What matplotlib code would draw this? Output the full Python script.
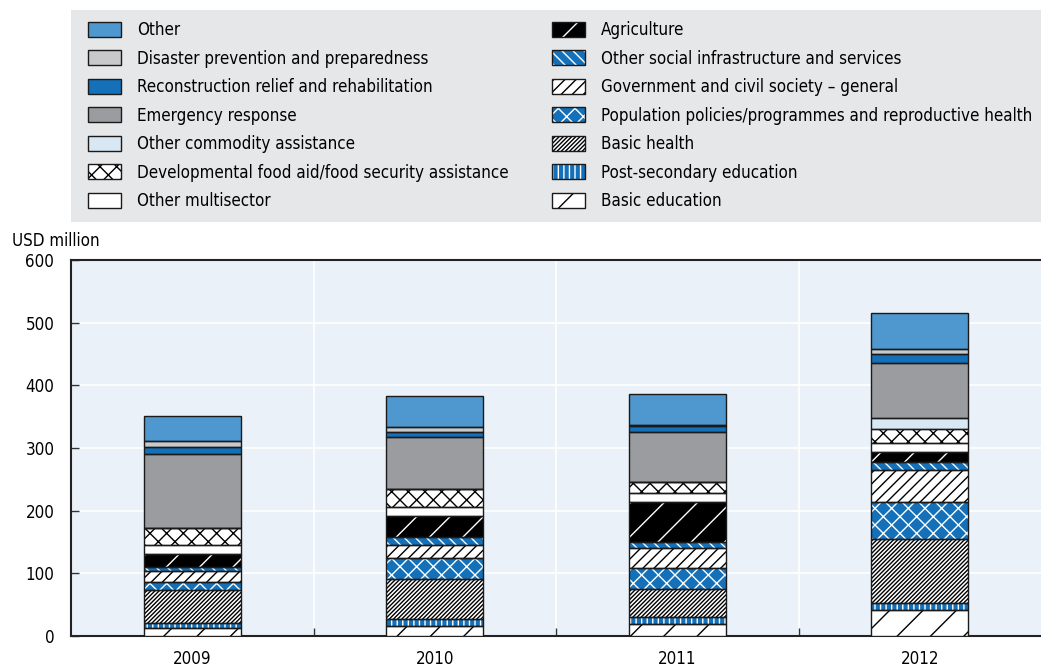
import numpy as np
import matplotlib
matplotlib.use("Agg")
import matplotlib.pyplot as plt
from matplotlib.patches import Patch, Rectangle
from matplotlib.legend_handler import HandlerTuple

plt.rcParams['font.family'] = ['DejaVu Sans']
plt.rcParams['font.stretch'] = 'condensed'
plt.rcParams['font.size'] = 12.2
plt.rcParams['hatch.linewidth'] = 1.0

years = ['2009', '2010', '2011', '2012']

# stacked bottom -> top, USD million
basic_education = [13, 16, 19, 41.5]
post_secondary = [8, 10.5, 12, 11.5]
basic_health = [52, 64.5, 44, 101.5]
population = [13, 33, 33.5, 59]
government = [17.5, 20.5, 32, 52]
other_social = [7, 13, 9, 12]
agriculture = [21, 34, 65, 16.5]
other_multisector = [13, 15, 14, 14.5]
food_aid = [28, 28.5, 17, 22]
other_commodity = [0, 0, 0, 17]
emergency = [117.5, 82, 80, 88]
reconstruction = [11.5, 9, 10, 15]
disaster = [9.5, 7.5, 1, 7.5]
other = [39.5, 49, 49, 57.5]

series = [
    ("Basic education", basic_education),
    ("Post-secondary education", post_secondary),
    ("Basic health", basic_health),
    ("Population policies/programmes and reproductive health", population),
    ("Government and civil society \u2013 general", government),
    ("Other social infrastructure and services", other_social),
    ("Agriculture", agriculture),
    ("Other multisector", other_multisector),
    ("Developmental food aid/food security assistance", food_aid),
    ("Other commodity assistance", other_commodity),
    ("Emergency response", emergency),
    ("Reconstruction relief and rehabilitation", reconstruction),
    ("Disaster prevention and preparedness", disaster),
    ("Other", other),
]

BLUE = "#1470b9"
# face, hatch colour, hatch
styles = {
    "Basic education": ("white", "black", "/"),
    "Post-secondary education": (BLUE, "white", "|||"),
    "Basic health": ("white", "black", "////////"),
    "Population policies/programmes and reproductive health": (BLUE, "white", "xx"),
    "Government and civil society \u2013 general": ("white", "black", "///"),
    "Other social infrastructure and services": (BLUE, "white", "\\\\\\"),
    "Agriculture": ("black", "white", "/"),
    "Other multisector": ("white", "black", None),
    "Developmental food aid/food security assistance": ("white", "black", "xx"),
    "Other commodity assistance": ("#d7e7f3", "black", None),
    "Emergency response": ("#9b9c9f", "black", None),
    "Reconstruction relief and rehabilitation": (BLUE, "black", None),
    "Disaster prevention and preparedness": ("#c8c9cb", "black", None),
    "Other": ("#4f97cf", "black", None),
}

fig = plt.figure(figsize=(10.41, 6.67), dpi=100)
ax = fig.add_axes([71/1041, 1 - 636/667, 1 - 71/1041, (636 - 260)/667])
ax.set_facecolor("#eaf1f9")

x = np.arange(len(years))
w = 0.40
bottom = np.zeros(len(years))
handles = {}
for name, vals in series:
    fc, hc, h = styles[name]
    vals = np.array(vals, dtype=float)
    ax.bar(x, vals, w, bottom=bottom, color=fc, edgecolor=hc, hatch=h, linewidth=0, zorder=3)
    ax.bar(x, vals, w, bottom=bottom, color="none", edgecolor="#1a1a1a", linewidth=1.0, zorder=4)
    bottom += vals
    handles[name] = (Patch(facecolor=fc, edgecolor=hc, hatch=h, linewidth=0),
                     Patch(facecolor="none", edgecolor="#1a1a1a", linewidth=1.0))

ax.set_xlim(-0.5, 3.5)
ax.set_ylim(0, 600)
ax.set_yticks(range(0, 601, 100))
ax.set_xticks(x)
ax.set_xticklabels(years)
ax.set_xticks([0.5, 1.5, 2.5], minor=True)
ax.tick_params(axis='x', which='major', length=0, pad=10)
ax.tick_params(axis='x', which='minor', direction='in', length=6, width=1, color="#333333")
ax.tick_params(axis='y', direction='in', length=6, width=1, color="#333333", pad=12)
ax.grid(True, which='major', axis='y', color='white', linewidth=1.2, zorder=1)
ax.grid(True, which='minor', axis='x', color='white', linewidth=1.2, zorder=1)
ax.set_axisbelow(True)
for s in ['top', 'left', 'bottom']:
    ax.spines[s].set_color("#222222")
    ax.spines[s].set_linewidth(1.5)
ax.spines['right'].set_visible(False)
fig.text(12/1041, 1 - 241/667, "USD million", va='center', ha='left')

# legend background
fig.patches.append(Rectangle((71/1041, 1 - 222/667), 1 - 71/1041, (222 - 10)/667,
                             transform=fig.transFigure, facecolor="#e6e7e8", edgecolor='none', zorder=0))

names_top = [n for n, _ in series][::-1]
col1 = names_top[:7]
col2 = names_top[7:]
common = dict(frameon=False, handlelength=1.95, handleheight=1.0, handletextpad=0.95,
              labelspacing=0.62, borderpad=0, borderaxespad=0,
              handler_map={tuple: HandlerTuple(ndivide=1, pad=0)})
leg1 = fig.legend([handles[n] for n in col1], col1, loc='upper left',
                  bbox_to_anchor=(88/1041, 1 - 21/667), **common)
leg2 = fig.legend([handles[n] for n in col2], col2, loc='upper left',
                  bbox_to_anchor=(552/1041, 1 - 21/667), **common)

fig.savefig("out.png", dpi=100)
